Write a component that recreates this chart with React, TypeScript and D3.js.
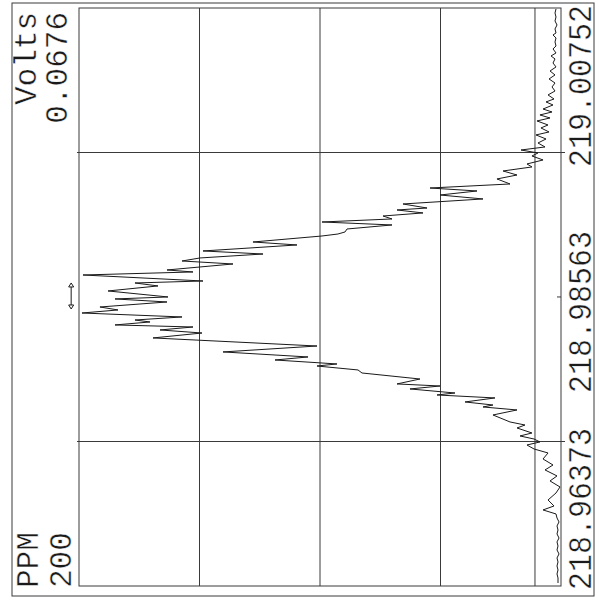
import React from "react";
import * as d3 from "d3";

// Frequency tick labels (vertical axis, bottom to top)
const freqTicks = [218.96373, 218.98563, 219.00752];
const freqTickLabels = ["218.96373", "218.98563", "219.00752"];
// Voltage full scale
const voltMax = 0.0676;
const voltLabel = "Volts";
const voltMaxLabel = "0.0676";
const ppmLabel = "PPM";
const ppmValue = "200";
const refVolts = 0.00365;
const arrowVolts = 0.0687;
const arrowFreqs = [218.98775, 218.98381];

// Trace: frequency (MHz) and signal (V)
const traceFreq = [
  219.02927, 219.02866, 219.02805, 219.02745, 219.02684, 219.02624, 219.02563, 219.02533, 219.02487, 219.02427,
  219.02366, 219.02321, 219.0226, 219.02215, 219.02169, 219.02108, 219.02048, 219.01987, 219.01927, 219.01866,
  219.01805, 219.01745, 219.01684, 219.01624, 219.01563, 219.01518, 219.01472, 219.01411, 219.01366, 219.01321,
  219.01275, 219.0123, 219.01169, 219.01124, 219.01063, 219.01018, 219.00957, 219.00896, 219.00836, 219.0079,
  219.00745, 219.00699, 219.00639, 219.00578, 219.00533, 219.00472, 219.00411, 219.00351, 219.00275, 219.00214,
  219.00169, 219.00108, 219.00048, 218.99972, 218.99911, 218.99881, 218.99836, 218.9979, 218.99745, 218.99699,
  218.99654, 218.99593, 218.99548, 218.99517, 218.99487, 218.99396, 218.99351, 218.9926, 218.99214, 218.99154,
  218.99108, 218.99063, 218.98972, 218.98942, 218.98896, 218.98805, 218.98775, 218.9873, 218.98654, 218.98563,
  218.98533, 218.98487, 218.98411, 218.98366, 218.9832, 218.9826, 218.98214, 218.98184, 218.98139, 218.98108,
  218.98063, 218.98017, 218.97942, 218.9782, 218.9773, 218.97654, 218.97608, 218.97548, 218.97517, 218.97457,
  218.97411, 218.9732, 218.97245, 218.97214, 218.97169, 218.97108, 218.97078, 218.97033, 218.96972, 218.96926,
  218.96896, 218.96851, 218.96775, 218.96669, 218.96623, 218.96578, 218.96502, 218.96457, 218.96411, 218.96366,
  218.9632, 218.9626, 218.96199, 218.96108, 218.96017, 218.95942, 218.95851, 218.95775, 218.95684, 218.95593,
  218.95487, 218.95396, 218.95336, 218.95275, 218.95214, 218.95154, 218.95093, 218.95032, 218.94972, 218.94911,
  218.94851, 218.9479, 218.94729, 218.94669, 218.94608, 218.94548, 218.94487, 218.94426, 218.94366, 218.94305,
  218.94229,
];
const traceVolts = [
  0.0007, 0.00084, 0.0007, 0.00084, 0.00056, 0.00084, 0.0007, 0.00112, 0.0007, 0.00084,
  0.0007, 0.00112, 0.0007, 0.0014, 0.00084, 0.00112, 0.0007, 0.00154, 0.00084, 0.00168,
  0.00084, 0.00126, 0.00084, 0.00182, 0.00098, 0.0021, 0.00112, 0.00252, 0.00126, 0.00295,
  0.00154, 0.00337, 0.00182, 0.00281, 0.00168, 0.00351, 0.0021, 0.00323, 0.00224, 0.00561,
  0.00323, 0.00407, 0.00252, 0.00477, 0.00407, 0.00813, 0.00617, 0.00898, 0.00715, 0.01837,
  0.01178, 0.01697, 0.01094, 0.02216, 0.01879, 0.023, 0.01935, 0.02496, 0.0237, 0.03352,
  0.0237, 0.03001, 0.03029, 0.03128, 0.03352, 0.0432, 0.03703, 0.05021, 0.04179, 0.05063,
  0.05315, 0.046, 0.05526, 0.05161, 0.06704, 0.05021, 0.05975, 0.05652, 0.06353, 0.05512,
  0.06255, 0.05526, 0.06466, 0.06213, 0.06718, 0.05315, 0.05975, 0.05764, 0.06255, 0.05161,
  0.05624, 0.05035, 0.05722, 0.03422, 0.0474, 0.03548, 0.04011, 0.03142, 0.03422, 0.02847,
  0.02791, 0.01978, 0.023, 0.01697, 0.02118, 0.01487, 0.01739, 0.00926, 0.01346, 0.00954,
  0.01094, 0.00617, 0.00954, 0.00715, 0.00505, 0.00617, 0.00407, 0.00575, 0.00379, 0.00295,
  0.00477, 0.00379, 0.00182, 0.00252, 0.00112, 0.00224, 0.00056, 0.00154, 0.00014, 0.0007,
  0.00182, 0.00098, 0.00252, 0.0007, 0.00056, 0.00028, 0.00056, 0.00042, 0.00056, 0.00028,
  0.00056, 0.00042, 0.00056, 0.00028, 0.00056, 0.00042, 0.00056, 0.00042, 0.00056, 0.00042,
  0.00042,
];

const W = 599;
const H = 600;
const plot = { left: 79, right: 561, top: 8, bottom: 586 };
const frame = { left: 12, right: 594, top: 3, bottom: 596 };
const FONT = "'Liberation Mono', 'DejaVu Sans Mono', monospace";
const INK = "#1a1a1a";
const GRID = "#3a3a3a";

export default function App() {
  const step = (freqTicks[2] - freqTicks[0]) / 2;
  const yScale = d3
    .scaleLinear()
    .domain([freqTicks[0] - step, freqTicks[2] + step])
    .range([plot.bottom, plot.top]);
  const xScale = d3.scaleLinear().domain([0, voltMax]).range([plot.right, plot.left]);

  const pts = traceFreq.map((f, i) => [f, traceVolts[i]] as [number, number]);
  const line = d3
    .line<[number, number]>()
    .x((d) => xScale(d[1]))
    .y((d) => yScale(d[0]));

  const vGrid = [0.25, 0.5, 0.75].map((q) => voltMax * q);
  const ax = xScale(arrowVolts);
  const ay1 = yScale(arrowFreqs[0]);
  const ay2 = yScale(arrowFreqs[1]);

  const rot = (x: number, y: number, s = 1) => `translate(${x},${y}) rotate(-90) scale(1,${s})`;
  const thin = { stroke: "#fff", strokeWidth: 0.4 };

  return (
    <svg width={W} height={H} style={{ position: "absolute", left: 0, top: 0, background: "#fff" }}>
      <rect x={0} y={0} width={W} height={H} fill="#fff" />
      {/* outer frame */}
      <rect
        x={frame.left}
        y={frame.top}
        width={frame.right - frame.left}
        height={frame.bottom - frame.top}
        fill="none"
        stroke={GRID}
        strokeWidth={1}
      />
      {/* plot box */}
      <rect
        x={plot.left}
        y={plot.top}
        width={plot.right - plot.left}
        height={plot.bottom - plot.top}
        fill="none"
        stroke={GRID}
        strokeWidth={1}
      />
      {/* vertical grid lines (voltage) */}
      {vGrid.map((v, i) => (
        <line key={"vg" + i} x1={xScale(v)} x2={xScale(v)} y1={plot.top} y2={plot.bottom} stroke={GRID} strokeWidth={1} />
      ))}
      {/* reference line near baseline */}
      <line x1={xScale(refVolts)} x2={xScale(refVolts)} y1={plot.top} y2={plot.bottom} stroke={GRID} strokeWidth={1} />
      {/* horizontal grid lines (frequency) */}
      {[freqTicks[0], freqTicks[2]].map((f, i) => (
        <line key={"hg" + i} x1={plot.left - 2} x2={plot.right + 4} y1={yScale(f)} y2={yScale(f)} stroke={GRID} strokeWidth={1} />
      ))}
      <line x1={plot.right - 4} x2={plot.right} y1={yScale(freqTicks[1])} y2={yScale(freqTicks[1])} stroke={GRID} strokeWidth={1} />
      {/* trace */}
      <path d={line(pts) || ""} fill="none" stroke={INK} strokeWidth={1} strokeLinejoin="miter" />
      {/* arrow marker */}
      <g stroke={INK} strokeWidth={1} fill="none">
        <line x1={ax} x2={ax} y1={ay1 + 4} y2={ay2 - 4} />
        <path d={`M${ax - 2.5},${ay1 + 4} L${ax},${ay1} L${ax + 2.5},${ay1 + 4} Z`} />
        <path d={`M${ax - 2.5},${ay2 - 4} L${ax},${ay2} L${ax + 2.5},${ay2 - 4} Z`} />
      </g>
      {/* left labels */}
      <g fontFamily={FONT} fontSize={31} fill={INK} {...thin}>
        <text transform={rot(36, plot.top + 4)} textAnchor="end">{voltLabel}</text>
        <text transform={rot(67, plot.top + 4)} textAnchor="end">{voltMaxLabel}</text>
        <text transform={rot(38, plot.bottom + 2)} textAnchor="start">{ppmLabel}</text>
        <text transform={rot(71, plot.bottom + 2)} textAnchor="start">{ppmValue}</text>
      </g>
      {/* right frequency labels */}
      <g fontFamily={FONT} fontSize={30} fill={INK} {...thin}>
        <text transform={rot(591, plot.bottom + 4, 1.1)} textAnchor="start">{freqTickLabels[0]}</text>
        <text transform={rot(591, yScale(freqTicks[1]) + 15, 1.1)} textAnchor="middle">{freqTickLabels[1]}</text>
        <text transform={rot(591, plot.top - 3, 1.1)} textAnchor="end">{freqTickLabels[2]}</text>
      </g>
    </svg>
  );
}
